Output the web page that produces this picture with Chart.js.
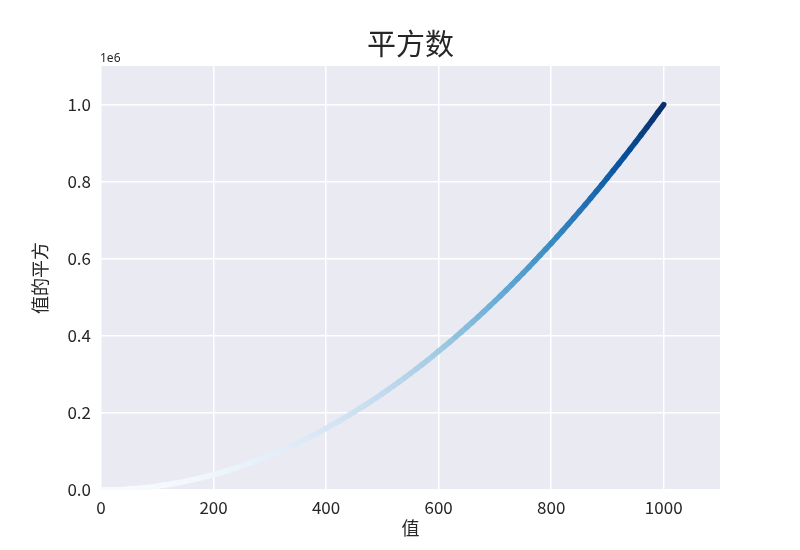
<!DOCTYPE html>
<html>
<head>
<meta charset="utf-8">
<script src="https://cdn.jsdelivr.net/npm/chart.js@4"></script>
<style>
  html, body { margin: 0; padding: 0; background: #ffffff; }
  #wrap { width: 800px; height: 550px; }
</style>
</head>
<body>
<div id="wrap"><canvas id="c" width="800" height="550"></canvas></div>
<script>
const titleText = '平方数';
const xLabel = '值';
const yLabel = '值的平方';
const offsetText = '1e6';

const xValues = [1,10,20,30,40,50,60,70,80,90,100,110,120,130,140,150,160,170,180,190,200,210,220,230,240,250,260,270,280,290,300,310,320,330,340,350,360,370,380,390,400,410,420,430,440,450,460,470,480,490,500,510,520,530,540,550,560,570,580,590,600,610,620,630,640,650,660,670,680,690,700,710,720,730,740,750,760,770,780,790,800,810,820,830,840,850,860,870,880,890,900,910,920,930,940,950,960,970,980,990,1000];
const yValues = [1,100,400,900,1600,2500,3600,4900,6400,8100,10000,12100,14400,16900,19600,22500,25600,28900,32400,36100,40000,44100,48400,52900,57600,62500,67600,72900,78400,84100,90000,96100,102400,108900,115600,122500,129600,136900,144400,152100,160000,168100,176400,184900,193600,202500,211600,220900,230400,240100,250000,260100,270400,280900,291600,302500,313600,324900,336400,348100,360000,372100,384400,396900,409600,422500,435600,448900,462400,476100,490000,504100,518400,532900,547600,562500,577600,592900,608400,624100,640000,656100,672400,688900,705600,722500,739600,756900,774400,792100,810000,828100,846400,864900,883600,902500,921600,940900,960400,980100,1000000];

const xTicks = [0,200,400,600,800,1000];
const xTickLabels = ['0','200','400','600','800','1000'];
const yTicks = [0,200000,400000,600000,800000,1000000];
const yTickLabels = ['0.0','0.2','0.4','0.6','0.8','1.0'];

// matplotlib "Blues" colormap anchors
const bluesAnchors = ['#f7fbff','#deebf7','#c6dbef','#9ecae1','#6baed6','#4292c6','#2171b5','#08519c','#08306b'];

function hexToRgb(h){ return [parseInt(h.substr(1,2),16),parseInt(h.substr(3,2),16),parseInt(h.substr(5,2),16)]; }
function blues(t){
  t = Math.max(0, Math.min(1, t));
  const n = bluesAnchors.length - 1;
  const pos = t * n;
  const i = Math.min(n - 1, Math.floor(pos));
  const f = pos - i;
  const a = hexToRgb(bluesAnchors[i]), b = hexToRgb(bluesAnchors[i+1]);
  const c = a.map((v,k)=>Math.round(v + (b[k]-v)*f));
  return 'rgb(' + c.join(',') + ')';
}
const yMin = Math.min(...yValues), yMax = Math.max(...yValues);
const norm = v => (v - yMin) / (yMax - yMin);

const points = xValues.map((x,i)=>({x:x, y:yValues[i]}));

const bgPlugin = {
  id: 'bg',
  beforeDraw(chart){
    const {ctx, chartArea:a} = chart;
    ctx.save();
    ctx.fillStyle = '#eaeaf2';
    ctx.fillRect(a.left, a.top, a.right - a.left, a.bottom - a.top);
    ctx.restore();
  },
  afterDraw(chart){
    const {ctx, chartArea:a} = chart;
    ctx.save();
    ctx.fillStyle = '#262626';
    ctx.font = '12px "Noto Sans", "DejaVu Sans", sans-serif';
    ctx.textAlign = 'left';
    ctx.textBaseline = 'alphabetic';
    ctx.fillText(offsetText, a.left - 1, a.top - 4);
    ctx.restore();
  }
};

const fontFam = '"Noto Sans CJK SC", "Noto Sans", sans-serif';

new Chart(document.getElementById('c'), {
  type: 'scatter',
  data: {
    datasets: [{
      data: points,
      showLine: true,
      borderWidth: 5.5,
      borderCapStyle: 'round',
      borderJoinStyle: 'round',
      pointRadius: 0,
      pointHoverRadius: 0,
      borderColor: blues(1),
      segment: {
        borderColor: ctx => blues(norm(ctx.p1.parsed.y))
      }
    }]
  },
  plugins: [bgPlugin],
  options: {
    responsive: false,
    animation: false,
    devicePixelRatio: 1,
    layout: { padding: { left: 0, right: 80, top: 0, bottom: 0 } },
    plugins: {
      legend: { display: false },
      tooltip: { enabled: false },
      title: {
        display: true,
        fullSize: false,
        text: titleText,
        color: '#262626',
        font: { family: fontFam, size: 29, weight: 'normal', lineHeight: 1.2 },
        padding: { top: 27, bottom: 4.2 }
      }
    },
    scales: {
      x: {
        type: 'linear',
        min: 0, max: 1100,
        afterBuildTicks: s => { s.ticks = xTicks.map(v => ({value: v})); },
        afterFit: s => { s.height = 60; },
        border: { display: false },
        grid: { color: '#ffffff', lineWidth: 1.5, drawTicks: false },
        ticks: {
          color: '#262626',
          padding: 7,
          maxRotation: 0,
          font: { family: fontFam, size: 17 },
          callback: v => { const i = xTicks.indexOf(v); return i >= 0 ? xTickLabels[i] : ''; }
        },
        title: {
          display: true, text: xLabel, color: '#262626',
          font: { family: fontFam, size: 18 },
          padding: { top: 0, bottom: 11 }
        }
      },
      y: {
        type: 'linear',
        min: 0, max: 1100000,
        afterBuildTicks: s => { s.ticks = yTicks.map(v => ({value: v})); },
        afterFit: s => { s.width = 101; },
        border: { display: false },
        grid: { color: '#ffffff', lineWidth: 1.5, drawTicks: false },
        ticks: {
          color: '#262626',
          padding: 10,
          font: { family: fontFam, size: 17 },
          callback: v => { const i = yTicks.indexOf(v); return i >= 0 ? yTickLabels[i] : ''; }
        },
        title: {
          display: true, text: yLabel, color: '#262626',
          font: { family: fontFam, size: 18 },
          padding: { top: 29, bottom: 0 }
        }
      }
    }
  }
});
</script>
</body>
</html>
